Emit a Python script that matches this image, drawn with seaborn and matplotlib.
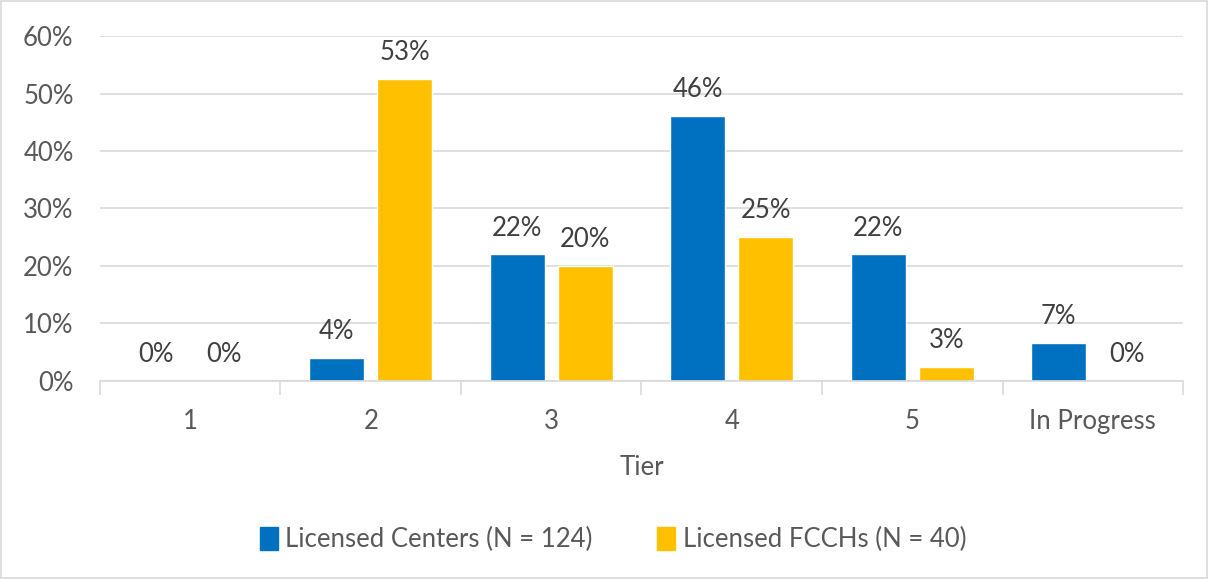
import numpy as np
import pandas as pd
import matplotlib.pyplot as plt
import matplotlib.patches as mpatches
import seaborn as sns

# tier shares (percent)
tiers = ["1", "2", "3", "4", "5", "In Progress"]
centers = [0.0, 4.0, 22.0, 46.1, 22.0, 6.6]
fcchs = [0.0, 52.5, 20.0, 25.0, 2.5, 0.0]
series_names = ["Licensed Centers (N = 124)", "Licensed FCCHs (N = 40)"]
colors = ["#0070C0", "#FFC000"]

df = pd.DataFrame({
    "Tier": tiers * 2,
    "Share": centers + fcchs,
    "Group": [series_names[0]] * len(tiers) + [series_names[1]] * len(tiers),
})

sns.set_theme(style="white")
plt.rcParams["font.family"] = ["Lato", "DejaVu Sans"]
text_col = "#595959"
fs = 18.5

fig = plt.figure(figsize=(12.09, 5.79), dpi=100)
ax = fig.add_axes([0.0827, 0.342, 0.8958, 0.5958])

sns.barplot(data=df, x="Tier", y="Share", hue="Group", palette=colors,
            width=0.755, gap=0.19, order=tiers, hue_order=series_names,
            ax=ax, legend=False, saturation=1)

# data labels, rounded like Excel (half up)
for cont in ax.containers:
    for bar in cont:
        v = bar.get_height()
        ax.annotate(f"{int(np.floor(v + 0.5))}%",
                    (bar.get_x() + bar.get_width() / 2, v),
                    xytext=(0, 10), textcoords="offset points",
                    ha="center", va="bottom", fontsize=fs, color="#404040")

ax.set_ylim(0, 60)
ax.set_xlim(-0.5, len(tiers) - 0.5)
ax.set_yticks(range(0, 61, 10))
ax.set_yticklabels([f"{t}%" for t in range(0, 61, 10)])
ax.yaxis.grid(True, color="#D9D9D9", linewidth=1.2)
ax.set_axisbelow(True)
for s in ["top", "right", "left"]:
    ax.spines[s].set_visible(False)
ax.spines["bottom"].set_color("#D9D9D9")
ax.spines["bottom"].set_linewidth(1.2)

# category boundary ticks
ax.set_xticks(np.arange(-0.5, len(tiers), 1.0), minor=True)
ax.tick_params(axis="x", which="minor", length=10, width=1.2, color="#D9D9D9", bottom=True)
ax.tick_params(axis="x", which="major", length=0, pad=20, labelsize=fs, labelcolor=text_col)
ax.tick_params(axis="y", length=0, pad=19, labelsize=fs, labelcolor=text_col)

ax.set_xlabel("Tier", fontsize=fs, color=text_col, labelpad=15)
ax.set_ylabel("")

handles = [mpatches.Patch(color=c, label=n) for c, n in zip(colors, series_names)]
fig.legend(handles=handles, loc="center", bbox_to_anchor=(0.507, 0.068), ncol=2,
           frameon=False, fontsize=fs, handlelength=0.7, handleheight=1.0,
           handletextpad=0.3, columnspacing=2.5, labelcolor=text_col)

fig.patches.append(mpatches.Rectangle((0.001, 0.002), 0.997, 0.996, transform=fig.transFigure,
                                      fill=False, edgecolor="#D9D9D9", linewidth=1.2))

fig.savefig("out.png", dpi=100)
